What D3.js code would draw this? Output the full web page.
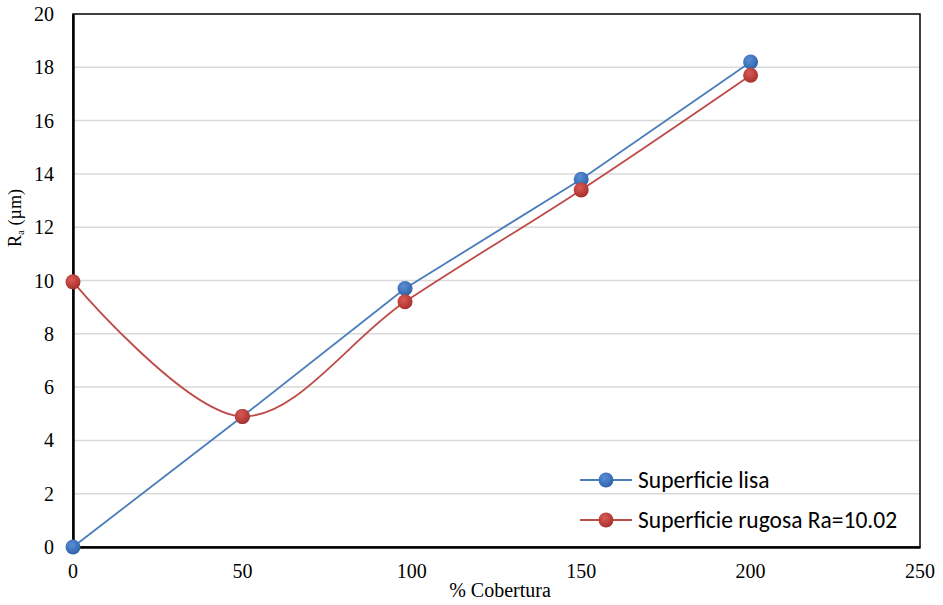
<!DOCTYPE html>
<html><head><meta charset="utf-8">
<script src="https://cdn.jsdelivr.net/npm/d3@7"></script>
<style>body{margin:0;background:#fff}</style></head>
<body><svg id="c" width="943" height="605"></svg>
<script>
const xTicks = [0, 50, 100, 150, 200, 250];
const yTicks = [0, 2, 4, 6, 8, 10, 12, 14, 16, 18, 20];
const xLisa = [0, 50, 98, 150, 200];
const yLisa = [0, 4.9, 9.7, 13.8, 18.2];
const xRugosa = [0, 50, 98, 150, 200];
const yRugosa = [9.95, 4.9, 9.2, 13.4, 17.7];
const seriesNames = ["Superficie lisa", "Superficie rugosa Ra=10.02"];

const SERIF = "'Liberation Serif', 'Times New Roman', serif";
const SANS = "Carlito, 'Open Sans', 'Liberation Sans', sans-serif";

const svg = d3.select("#c");
const L = 73, R = 920, T = 14, B = 547;
const x = d3.scaleLinear().domain([0, 250]).range([L, R]);
const y = d3.scaleLinear().domain([0, 20]).range([B, T]);

const defs = svg.append("defs");
function grad(id, c1, c2) {
  const g = defs.append("radialGradient").attr("id", id).attr("cx", "40%").attr("cy", "35%").attr("r", "65%");
  g.append("stop").attr("offset", "0%").attr("stop-color", c1);
  g.append("stop").attr("offset", "100%").attr("stop-color", c2);
}
grad("gb", "#5a8fd8", "#2f63a8");
grad("gr", "#d95a55", "#a8302c");

// gridlines
svg.append("g").selectAll("line").data(yTicks.filter(d => d > 0 && d < 20)).join("line")
  .attr("x1", L).attr("x2", R).attr("y1", d => y(d)).attr("y2", d => y(d))
  .attr("stroke", "#d9d9d9").attr("stroke-width", 1.5);

// border
svg.append("rect").attr("x", L).attr("y", T).attr("width", R - L).attr("height", B - T)
  .attr("fill", "none").attr("stroke", "#000").attr("stroke-width", 1.5);

// axes (lines via d3 axis, labels drawn explicitly from the scales)
const xa = svg.append("g").attr("transform", `translate(0,${B})`)
  .call(d3.axisBottom(x).tickValues(xTicks).tickSize(0).tickFormat(""));
const ya = svg.append("g").attr("transform", `translate(${L},0)`)
  .call(d3.axisLeft(y).tickValues(yTicks).tickSize(0).tickFormat(""));
[xa, ya].forEach(a => a.select(".domain").attr("stroke", "#000").attr("stroke-width", 2.5));

svg.append("g").selectAll("text").data(xTicks).join("text")
  .attr("x", d => x(d)).attr("y", B + 31).attr("text-anchor", "middle")
  .attr("font-family", SERIF).attr("font-size", "20px").attr("fill", "#000").text(d => d);
svg.append("g").selectAll("text").data(yTicks).join("text")
  .attr("x", L - 19).attr("y", d => y(d) + 7).attr("text-anchor", "end")
  .attr("font-family", SERIF).attr("font-size", "20px").attr("fill", "#000").text(d => d);

// x title
svg.append("text").attr("x", 500).attr("y", 597).attr("text-anchor", "middle")
  .attr("font-family", SERIF).attr("font-size", "20px").text("% Cobertura");
// y title
const yt = svg.append("text").attr("transform", "translate(21,218) rotate(-90)")
  .attr("text-anchor", "middle").attr("font-family", SERIF).attr("font-size", "18px");
yt.append("tspan").text("R");
yt.append("tspan").attr("font-size", "11px").attr("dy", 3).text("a");
yt.append("tspan").attr("dy", -3).text(" (µm)");

const lisa = xLisa.map((d, i) => [d, yLisa[i]]);
const rug = xRugosa.map((d, i) => [d, yRugosa[i]]);

svg.append("path").datum(lisa)
  .attr("d", d3.line().x(d => x(d[0])).y(d => y(d[1])))
  .attr("fill", "none").attr("stroke", "#4a7ebb").attr("stroke-width", 1.8);
svg.append("path").datum(rug)
  .attr("d", d3.line().x(d => x(d[0])).y(d => y(d[1])).curve(d3.curveCatmullRom.alpha(0.5)))
  .attr("fill", "none").attr("stroke", "#be4b48").attr("stroke-width", 1.8);

svg.append("g").selectAll("circle").data(lisa).join("circle")
  .attr("cx", d => x(d[0])).attr("cy", d => y(d[1])).attr("r", 7.5).attr("fill", "url(#gb)");
svg.append("g").selectAll("circle").data(rug).join("circle")
  .attr("cx", d => x(d[0])).attr("cy", d => y(d[1])).attr("r", 7.5).attr("fill", "url(#gr)");

// legend
const leg = [{n: seriesNames[0], c: "#4a7ebb", g: "url(#gb)", yy: 480},
             {n: seriesNames[1], c: "#be4b48", g: "url(#gr)", yy: 520}];
const lg = svg.append("g").selectAll("g").data(leg).join("g");
lg.append("line").attr("x1", 580).attr("x2", 632).attr("y1", d => d.yy).attr("y2", d => d.yy)
  .attr("stroke", d => d.c).attr("stroke-width", 1.8);
lg.append("circle").attr("cx", 606).attr("cy", d => d.yy).attr("r", 7.5).attr("fill", d => d.g);
lg.append("text").attr("x", 638).attr("y", d => d.yy + 8)
  .attr("font-family", SANS).attr("font-size", "23.5px").attr("fill", "#000").text(d => d.n);
</script></body></html>
